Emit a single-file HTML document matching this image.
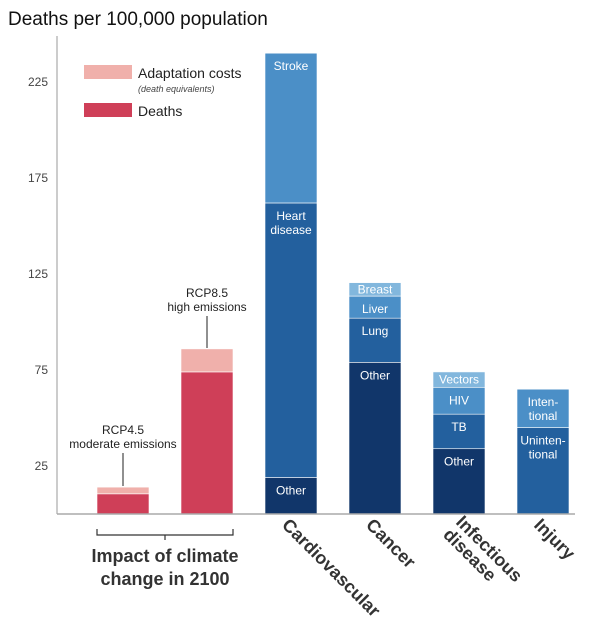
<!DOCTYPE html>
<html><head><meta charset="utf-8"><style>
body{margin:0;background:#fff}
svg{display:block;font-family:"Liberation Sans",Arial,sans-serif}
</style></head><body>
<svg id="c" width="592" height="628" viewBox="0 0 592 628">
<text x="8" y="25" font-size="19" fill="#111">Deaths per 100,000 population</text>
<g id="bars"></g>
<line x1="57" y1="36" x2="57" y2="514" stroke="#bbb" stroke-width="1.5"/>
<line x1="57" y1="514" x2="575" y2="514" stroke="#aaa" stroke-width="1.5"/>
<g id="ticks"></g>
<g>
<rect x="84" y="65" width="48" height="14" fill="#f0b0ab"/>
<text x="138" y="78" font-size="14" fill="#222">Adaptation costs</text>
<text x="138" y="92" font-size="9" font-style="italic" fill="#444">(death equivalents)</text>
<rect x="84" y="103" width="48" height="14" fill="#cf3f58"/>
<text x="138" y="116" font-size="14" fill="#222">Deaths</text>
</g>
<g font-size="12" fill="#222" text-anchor="middle">
<text x="123" y="434">RCP4.5</text>
<text x="123" y="448">moderate emissions</text>
<line x1="123" y1="453" x2="123" y2="486" stroke="#222"/>
<text x="207" y="297">RCP8.5</text>
<text x="207" y="311">high emissions</text>
<line x1="207" y1="316" x2="207" y2="348" stroke="#222"/>
</g>
<path d="M97 529 V535 H233 V529 M165 535 V540" fill="none" stroke="#333" stroke-width="1.2"/>
<text x="165" y="562" font-size="18" font-weight="bold" fill="#333" text-anchor="middle">Impact of climate</text>
<text x="165" y="585" font-size="18" font-weight="bold" fill="#333" text-anchor="middle">change in 2100</text>
<g font-size="18" font-weight="bold" fill="#333">
<text transform="translate(281,526) rotate(45)">Cardiovascular</text>
<text transform="translate(365,526) rotate(45)">Cancer</text>
<text transform="translate(455,523) rotate(45)">Infectious<tspan x="0" dy="18">disease</tspan></text>
<text transform="translate(533,526) rotate(45)">Injury</text>
</g>
</svg>
<script>
const ticks=[25,75,125,175,225];
const climateDeaths=[10.5,74];
const climateAdapt=[3.5,12];
const cardioNames=["Other","Heart disease","Stroke"];
const cardioValues=[19,143,78];
const cancerNames=["Other","Lung","Liver","Breast"];
const cancerValues=[79,23,11.5,7];
const infectNames=["Other","TB","HIV","Vectors"];
const infectValues=[34,18,14,8];
const injuryNames=["Unintentional","Intentional"];
const injuryValues=[45,20];
const NS="http://www.w3.org/2000/svg";
const y0=514,k=1.92,bw=52;
const y=v=>y0-v*k;
const bars=document.getElementById('bars'),tg=document.getElementById('ticks');
ticks.forEach(t=>{const e=document.createElementNS(NS,'text');


e.setAttribute('x',48);e.setAttribute('y',y(t)+4);e.setAttribute('text-anchor','end');
e.setAttribute('font-size','12');e.setAttribute('fill','#444');e.textContent=t;tg.appendChild(e);});
function rect(x,v0,v1,fill,name){const r=document.createElementNS(NS,'rect');


r.setAttribute('x',x);r.setAttribute('y',y(v1));r.setAttribute('width',bw);r.setAttribute('height',y(v0)-y(v1));r.setAttribute('fill',fill);
r.setAttribute('stroke','#fff');r.setAttribute('stroke-width','0.6');bars.appendChild(r);}
function label(x,yy,lines){const t=document.createElementNS(NS,'text');


t.setAttribute('x',x+bw/2);t.setAttribute('y',yy);t.setAttribute('text-anchor','middle');t.setAttribute('font-size','12');t.setAttribute('fill','#fff');
lines.forEach((l,i)=>{const s=document.createElementNS(NS,'tspan');s.setAttribute('x',x+bw/2);s.setAttribute('dy',i?14:0);s.textContent=l;t.appendChild(s);});bars.appendChild(t);}
[97,181].forEach((x,i)=>{rect(x,0,climateDeaths[i],'#cf3f58','bar-deaths');rect(x,climateDeaths[i],climateDeaths[i]+climateAdapt[i],'#f0b0ab','bar-adaptation');});
const dark='#11366a',mid='#23609e',lt='#4b8fc7',xl='#82b7dd';
function stack(x,names,vals,cols,labs){let c=0;vals.forEach((v,i)=>{rect(x,c,c+v,cols[i],'bar-'+names[i].toLowerCase().replace(/ /g,'-'));
const h=v*k;const ly=h<20?(y(c+v)+h/2+4):(y(c+v)+17);label(x,ly,labs[i]);c+=v;});}
stack(265,cardioNames,cardioValues,[dark,mid,lt],[["Other"],["Heart","disease"],["Stroke"]]);
stack(349,cancerNames,cancerValues,[dark,mid,lt,xl],[["Other"],["Lung"],["Liver"],["Breast"]]);
stack(433,infectNames,infectValues,[dark,mid,lt,xl],[["Other"],["TB"],["HIV"],["Vectors"]]);
stack(517,injuryNames,injuryValues,[mid,lt],[["Uninten-","tional"],["Inten-","tional"]]);
</script>
</body></html>
